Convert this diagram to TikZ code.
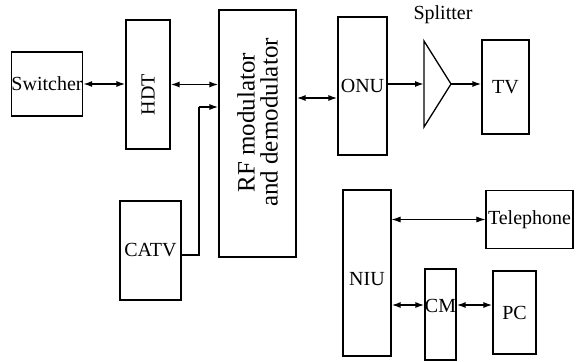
\documentclass[tikz,border=0pt]{standalone}
\usepackage{fontspec}
\setmainfont{Liberation Serif}
\usetikzlibrary{arrows.meta,positioning,calc}
\tikzset{
  >={Latex[length=9pt,width=6pt]},
  every node/.style={font=\fontsize{20}{22}\selectfont,text=black},
  blockbox/.style={draw=black,line width=1.1pt,inner sep=0pt,align=center},
  arrow/.style={<->,line width=1.6pt,draw=black},
  oneway/.style={->,line width=1.6pt,draw=black},
  thinarr/.style={<->,line width=1pt,draw=black},
  plainline/.style={line width=1.3pt,draw=black}
}
\begin{document}
\begin{tikzpicture}[x=1pt,y=-1pt]
  \useasboundingbox (0,0) rectangle (580,361);
  \node[blockbox,minimum width=70pt,minimum height=64pt] (switcher) at (47,84) {Switcher};
  \node[blockbox,minimum width=44pt,minimum height=129pt,
    label={[rotate=90,xshift=-10pt]center:HDT}] (hdt) at (148,84.5) {};
  \node[blockbox,minimum width=77pt,minimum height=247pt,
    label={[rotate=90,xshift=11pt,align=center,font=\fontsize{25}{23}\selectfont]center:RF modulator\\ and demodulator}] (rf) at (257.5,133.5) {};
  \node[blockbox,minimum width=61pt,minimum height=99pt] (catv) at (150.5,250.5) {CATV};
  \node[blockbox,minimum width=49pt,minimum height=138pt] (onu) at (362.5,86) {ONU};
  \node[blockbox,minimum width=47pt,minimum height=94pt] (tv) at (505.5,87) {TV};
  \node[blockbox,minimum width=48pt,minimum height=166pt,
    label={[yshift=-6pt]center:NIU}] (niu) at (367,273) {};
  \node[blockbox,minimum width=87pt,minimum height=58pt] (telephone) at (529.5,219.5) {Telephone};
  \node[blockbox,minimum width=31pt,minimum height=91pt,
    label={[yshift=9pt]center:CM}] (cm) at (440.5,314.5) {};
  \node[blockbox,minimum width=43pt,minimum height=83pt] (pc) at (514.5,312.5) {PC};

  % splitter
  \coordinate (splitin) at (424,84);
  \coordinate (splitout) at (451,84);
  \draw[plainline] (424,41) -- (424,127) -- (splitout) -- cycle;
  \node (splitlabel) at (443,15) {Splitter};

  \draw[arrow] (switcher.east) -- (hdt.west |- switcher.east);
  \draw[arrow] (hdt.east) -- (rf.west |- hdt.east);
  \coordinate (bend) at (199,107);
  \draw[plainline] ([yshift=-4.5pt]catv.east) -| (bend);
  \draw[oneway] (bend) -- (rf.west |- bend);
  \draw[arrow] (rf.east |- 0,98) -- (onu.west |- 0,98);
  \draw[oneway] (onu.east |- splitin) -- (splitin);
  \draw[oneway] (splitout) -- (tv.west |- splitout);
  \draw[thinarr] (niu.east |- telephone.west) -- (telephone.west);
  \draw[arrow] (niu.east |- 0,305) -- (cm.west |- 0,305);
  \draw[arrow] (cm.east |- 0,305) -- (pc.west |- 0,305);
\end{tikzpicture}
\end{document}
